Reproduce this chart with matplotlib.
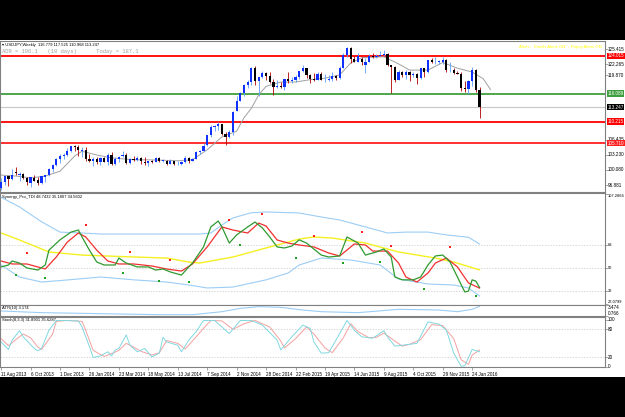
"""USDJPY weekly chart with TDI, ATR and Stochastic sub-windows (MT4 style)."""
import matplotlib
matplotlib.use('Agg')
import matplotlib.pyplot as plt
import matplotlib.patches as mpatches

# ── DATA ──
# weekly bars, bar 0 = week of 11 Aug 2013, bar 130 = week of 7 Feb 2016
opens = [96.25, 97.52, 98.72, 98.10, 99.60, 99.00, 99.30, 98.30, 97.40, 98.40,
         97.90, 97.30, 98.60, 99.10, 100.20, 101.20, 102.40, 103.00, 103.20, 104.00,
         105.00, 104.80, 104.10, 104.30, 102.30, 102.00, 102.30, 101.70, 102.50, 101.80,
         103.30, 101.40, 102.30, 102.90, 103.30, 101.50, 102.40, 102.10, 102.50, 101.80,
         101.50, 102.00, 101.80, 102.50, 102.00, 102.00, 101.40, 102.00, 101.30, 101.30,
         101.80, 102.60, 102.00, 102.40, 103.80, 104.10, 105.20, 107.30, 109.00, 109.30,
         109.60, 107.60, 106.90, 108.10, 112.50, 114.60, 116.20, 117.80, 118.60, 121.40,
         118.80, 119.50, 120.40, 119.70, 118.50, 117.50, 117.70, 117.50, 119.10, 118.80,
         119.00, 119.60, 120.80, 121.40, 120.00, 119.10, 119.00, 120.20, 118.90, 118.90,
         119.20, 119.70, 119.30, 121.50, 124.10, 125.60, 123.40, 122.70, 123.30, 122.00,
         122.80, 124.00, 123.80, 123.90, 124.20, 124.30, 122.00, 121.70, 119.00, 120.60,
         120.00, 120.60, 119.90, 120.20, 119.40, 121.40, 120.60, 123.10, 122.60, 122.80,
         122.80, 123.10, 121.00, 121.10, 120.30, 120.20, 117.20, 117.00, 118.80, 121.10,
         116.779]
highs = [98.37, 98.90, 98.90, 100.20, 100.60, 99.70, 99.50, 98.50, 98.60, 99.00,
         98.50, 98.80, 99.10, 100.40, 101.40, 102.60, 103.40, 103.60, 104.60, 105.00,
         105.40, 105.40, 104.90, 104.80, 103.40, 102.70, 102.80, 102.70, 102.70, 103.60,
         103.80, 102.80, 102.90, 104.10, 103.60, 102.50, 102.90, 103.00, 102.80, 102.70,
         102.00, 102.10, 102.80, 102.80, 102.30, 102.20, 102.30, 102.00, 101.90, 101.90,
         103.10, 102.70, 102.60, 104.00, 104.20, 105.70, 107.40, 109.50, 109.40, 110.10,
         109.70, 108.00, 108.40, 112.50, 115.60, 116.40, 118.00, 118.90, 121.70, 121.90,
         119.50, 120.80, 120.60, 120.50, 119.20, 118.90, 118.60, 119.20, 120.50, 119.60,
         119.90, 120.90, 122.00, 121.50, 120.20, 120.40, 120.60, 120.50, 120.10, 120.00,
         120.50, 120.00, 121.80, 124.50, 125.90, 125.80, 124.00, 124.50, 123.80, 123.50,
         124.30, 124.60, 124.40, 125.10, 125.30, 124.50, 122.10, 121.80, 121.00, 120.80,
         121.00, 120.80, 120.50, 120.40, 121.50, 121.50, 123.20, 123.60, 123.80, 123.10,
         123.70, 123.30, 122.70, 121.40, 120.80, 120.60, 118.80, 118.90, 121.70, 121.30,
         117.525]
lows = [95.80, 97.00, 96.80, 98.00, 99.00, 97.80, 98.10, 96.90, 96.60, 97.80,
        96.90, 97.10, 97.60, 98.80, 99.60, 100.90, 101.60, 102.40, 102.90, 103.90,
        104.00, 103.00, 102.80, 102.00, 101.70, 100.80, 101.40, 101.20, 101.70, 101.20,
        101.20, 101.20, 101.70, 102.80, 101.30, 101.40, 101.90, 101.90, 101.40, 101.10,
        100.80, 101.50, 101.70, 101.70, 101.70, 101.20, 101.30, 101.10, 101.10, 101.10,
        101.60, 101.50, 101.90, 102.30, 103.50, 104.00, 105.10, 107.00, 108.30, 108.50,
        107.50, 105.20, 106.70, 107.40, 112.50, 114.60, 115.50, 117.20, 117.90, 117.90,
        115.60, 119.30, 119.00, 118.40, 115.80, 117.30, 117.20, 116.90, 118.30, 118.20,
        118.60, 119.20, 120.60, 119.30, 118.30, 118.70, 118.90, 118.90, 118.60, 118.80,
        118.80, 118.90, 119.20, 121.50, 123.80, 122.50, 122.70, 122.60, 122.10, 120.40,
        122.60, 123.60, 123.60, 123.90, 123.90, 121.80, 116.20, 118.60, 119.00, 119.60,
        119.20, 118.70, 119.60, 118.10, 119.10, 119.60, 120.30, 122.50, 122.20, 122.20,
        122.30, 120.60, 120.60, 120.20, 120.10, 116.70, 116.50, 115.97, 117.60, 116.50,
        110.968]
closes = [97.52, 98.72, 98.10, 99.10, 99.40, 99.30, 98.30, 97.50, 98.50, 97.80,
          97.40, 98.70, 99.00, 100.20, 101.20, 102.40, 102.90, 103.20, 104.00, 105.00,
          104.80, 104.20, 104.30, 102.30, 102.00, 102.30, 101.80, 102.50, 101.80, 103.30,
          101.40, 102.30, 102.80, 103.30, 101.60, 102.40, 102.20, 102.60, 101.90, 101.50,
          101.90, 101.80, 102.50, 102.00, 102.00, 101.40, 102.00, 101.30, 101.30, 101.80,
          102.60, 102.00, 102.40, 103.80, 104.10, 105.10, 107.40, 109.00, 109.30, 109.70,
          107.60, 106.90, 108.10, 112.30, 114.60, 116.20, 117.80, 118.60, 121.40, 118.80,
          119.50, 120.40, 119.70, 118.50, 117.50, 117.70, 117.50, 119.10, 118.80, 119.00,
          119.60, 120.80, 121.40, 120.00, 119.10, 119.00, 120.20, 118.90, 118.90, 119.20,
          119.70, 119.30, 121.50, 124.10, 125.60, 123.40, 122.70, 123.90, 122.80, 122.80,
          124.00, 123.80, 123.90, 124.20, 124.30, 122.00, 121.70, 119.00, 120.60, 120.00,
          120.60, 119.90, 120.20, 119.40, 121.40, 120.60, 123.10, 122.60, 122.80, 122.80,
          123.10, 121.00, 121.10, 120.30, 120.20, 117.20, 117.00, 118.80, 121.10, 116.80,
          113.247]

# gray moving average on the price window (drawn a few bars past the last candle)
ma_x = [0, 4, 8, 12, 16, 20, 22, 26, 30, 36, 40, 44, 48, 52, 56, 60, 62, 64, 66, 68,
        70, 72, 76, 80, 84, 88, 92, 95, 98, 104, 108, 111, 116, 120, 124, 128, 131, 133]
ma_y = [99.0, 98.8, 98.4, 98.8, 99.8, 103.0, 104.0, 103.2, 102.6, 102.2, 102.2, 102.1, 102.0,
        102.2, 104.3, 107.0, 107.6, 108.2, 111.0, 113.0, 115.8, 117.6, 118.5, 118.5, 119.0,
        119.3, 120.0, 122.5, 123.6, 123.8, 122.3, 121.0, 121.0, 122.6, 121.4, 120.6, 119.2, 116.9]

# horizontal levels and their tag colours
levels = [124.015, 116.089, 110.215, 105.710]
level_colors = ['#ff0000', '#3f9f3f', '#ff0000', '#ff2020']
last_price = 113.247
price_ticks = [125.415, 122.265, 119.870, 106.435, 103.230, 100.080, 96.881]

# Synergy TDI
tdi_green_x = [0, 2, 3, 5, 7, 10, 12, 13, 16, 19, 21, 22, 24, 26, 28, 31, 32, 34, 37, 40,
               42, 44, 46, 49, 51, 52, 55, 57, 59, 60, 62, 64, 67, 69, 71, 73, 75, 77, 79, 81,
               83, 87, 89, 92, 94, 97, 99, 102, 104, 106, 107, 109, 112, 114, 116, 118, 120,
               122, 124, 126, 127, 128, 129, 130]
tdi_green = [51, 52.5, 55.6, 54, 50.2, 48.6, 52.5, 64, 72, 78, 79.6, 74.2, 64, 54.8, 52.5,
             52.5, 57.9, 54, 51, 51, 48.6, 49.4, 47.1, 44.7, 51, 54, 66.5, 82, 86.6, 82,
             69.5, 75.8, 82, 85.8, 81.2, 74.2, 66.5, 65.7, 67.2, 72, 69.5, 60.2, 58.7, 59.5,
             74.2, 69.5, 60.2, 62.6, 64.9, 58.7, 43.2, 41, 41, 43.2, 52.5, 59.5, 60.2, 54.8,
             43.2, 31.6, 32.3, 41, 40, 35.2]
tdi_red_x = [0, 3, 7, 12, 15, 18, 21, 23, 26, 29, 32, 36, 41, 45, 49, 52, 56, 60, 63, 67,
             70, 72, 75, 78, 81, 85, 89, 92, 96, 99, 101, 105, 108, 110, 113, 116, 118, 121,
             124, 127, 130]
tdi_red = [55.6, 53.3, 53.3, 49.4, 58.7, 70.3, 77.3, 74.2, 64, 55.6, 53.3, 53.3, 51.7, 49.4,
           47.8, 53.3, 66.5, 82, 79.6, 77.3, 85, 82.7, 71.9, 69.5, 68, 66.5, 61.8, 59.5, 68.8,
           68, 63.3, 63.3, 54, 43.2, 39.3, 46.3, 54, 57.9, 51, 38.6, 34.6]
tdi_base_x = [0, 5, 13, 22, 36, 45, 51, 54, 63, 72, 81, 85, 90, 99, 108, 118, 123, 130]
tdi_base = [77.3, 71.9, 62.6, 60.2, 58.7, 57.9, 54.8, 54, 58.7, 65.7, 72.6, 74.2, 73.4, 69.5,
            62.6, 57.9, 54.8, 48.7]
tdi_up_x = [0, 5, 11, 16, 22, 27, 54, 57, 60, 63, 68, 72, 81, 87, 92, 99, 105, 110, 116, 121,
            127, 130]
tdi_up = [105, 97.5, 86, 78, 77.3, 76.5, 76.5, 77.3, 83.5, 89, 93, 93.6, 92.8, 89.7, 87.4, 82,
          77.3, 78, 78, 75.8, 74, 68.8]
tdi_dn_x = [0, 5, 11, 18, 27, 36, 45, 51, 56, 63, 72, 78, 81, 87, 95, 103, 108, 116, 123, 127,
            130]
tdi_dn = [52.5, 43.2, 39.3, 40.9, 43.2, 41, 39.3, 37, 34.7, 35.4, 41, 46.3, 52.5, 57.9, 56.4,
          52.5, 41.6, 37.8, 37, 34.7, 28.5]
sell_x = [7, 23, 35, 46, 62, 71, 85, 98, 106, 122]
sell_y = [61.8, 83.5, 62.6, 56.4, 87.4, 92, 75, 78, 67.2, 66.5]
buy_x = [4, 12, 33, 43, 51, 65, 80, 93, 103, 115, 129]
buy_y = [44.7, 42.4, 46.3, 40, 39.3, 68, 58, 54, 54.8, 33.9, 28.5]

# ATR(10)
atr_x = [0, 11, 22, 32, 43, 52, 60, 65, 70, 76, 82, 87, 97, 108, 119, 124, 128, 130]
atr = [2.0, 1.59, 1.42, 1.26, 1.09, 1.09, 1.83, 2.65, 3.06, 2.9, 2.24, 1.83, 1.59, 2.41, 2.24,
       1.83, 2.41, 3.17]

# Stochastic(8,3,3)
st_main_x = [0, 2, 3, 5, 6, 9, 10, 11, 13, 15, 17, 21, 22, 24, 25, 27, 29, 30, 31, 32,
             34, 35, 37, 39, 41, 43, 44, 45, 48, 49, 51, 53, 55, 58, 62, 65, 68, 71, 75, 76,
             79, 82, 84, 85, 87, 89, 91, 94, 96, 98, 101, 104, 105, 107, 109, 113, 116, 119,
             121, 123, 125, 126, 128, 130]
st_main = [53, 37, 57, 77, 64, 39, 34, 39, 78, 99, 99, 98, 85, 43, 20, 23, 32, 23, 36, 39,
           68, 46, 32, 39, 21, 29, 63, 53, 46, 32, 57, 75, 99, 99, 71, 99, 99, 89, 57, 36,
           64, 89, 82, 53, 29, 30, 57, 99, 78, 64, 61, 77, 64, 44, 46, 50, 96, 91, 78, 29,
           1, 2, 37, 31.9]
st_sig_x = [0, 2, 4, 6, 8, 10, 11, 14, 15, 18, 22, 23, 25, 28, 30, 32, 34, 36, 38, 41,
            43, 45, 48, 50, 52, 55, 57, 60, 63, 66, 69, 73, 76, 77, 80, 83, 85, 88, 90, 93,
            95, 97, 100, 102, 104, 107, 109, 111, 114, 117, 120, 123, 125, 127, 128, 130]
st_sig = [60, 45, 58, 70, 62, 42, 37, 70, 97, 99, 97, 78, 35, 22, 28, 35, 50, 42, 33, 25,
          30, 56, 50, 38, 55, 82, 99, 98, 80, 92, 99, 85, 55, 40, 60, 85, 70, 40, 30, 62,
          92, 75, 62, 63, 72, 55, 44, 48, 58, 90, 88, 60, 15, 5, 25, 35.6]

date_idx = [0, 8, 16, 24, 32, 40, 48, 56, 64, 72, 80, 88, 96, 104, 112, 120, 128]
date_labels = ['11 Aug 2013', '6 Oct 2013', '1 Dec 2013', '26 Jan 2014', '23 Mar 2014',
               '18 May 2014', '13 Jul 2014', '7 Sep 2014', '2 Nov 2014', '28 Dec 2014',
               '22 Feb 2015', '19 Apr 2015', '14 Jun 2015', '9 Aug 2015', '4 Oct 2015',
               '29 Nov 2015', '24 Jan 2016']

# ── LAYOUT ──
W, H = 625, 417
FS = 3.3
plt.rcParams['font.family'] = ['Liberation Sans', 'DejaVu Sans']
fig = plt.figure(figsize=(W / 100, H / 100), dpi=100, facecolor='black')
fig.patches.append(mpatches.Rectangle((0, 1 - 377 / H), 1, 337 / H, transform=fig.transFigure,
                                      facecolor='white', edgecolor='none', zorder=-10))


def panel(top, bottom):
    a = fig.add_axes([0.0, 1 - bottom / H, 605 / W, (bottom - top) / H])
    a.set_facecolor('white')
    for s in a.spines.values():
        s.set_color('#808080')
        s.set_linewidth(0.8)
    a.set_xlim(-0.3, 164.1)
    a.yaxis.tick_right()
    a.tick_params(axis='y', length=2, width=0.5, colors='#808080', labelright=False)
    a.tick_params(axis='x', length=0, labelbottom=False)
    return a


def right_labels(a, vals, texts, vas=None, fs=FS):
    a.set_yticks(vals)
    vas = vas or ['center'] * len(vals)
    for v, t, va in zip(vals, texts, vas):
        a.text(1.004, v, t, transform=a.get_yaxis_transform(), fontsize=fs, va=va, ha='left',
               color='black', clip_on=False)


ax = panel(41, 192)
ax_tdi = panel(193, 305)
ax_atr = panel(305, 316)
ax_st = panel(317, 367)

# ── PRICE WINDOW ──
ax.set_ylim(95.45, 127.1)
for lv, c in zip(levels, level_colors):
    ax.axhline(lv, color=c, lw=1.3, zorder=1)
ax.axhline(last_price, color='#c8c8c8', lw=0.8, zorder=1)

x = list(range(len(closes)))
bull = [c >= o for o, c in zip(opens, closes)]
wick_c = ['#5c9cff' if b else '#b00000' for b in bull]
body_c = ['#1030ff' if b else '#000000' for b in bull]
bottoms = [min(o, c) for o, c in zip(opens, closes)]
heights = [max(abs(c - o), 0.12) for o, c in zip(opens, closes)]
ax.vlines(x, lows, highs, colors=wick_c, lw=0.6, zorder=3)
ax.bar(x, heights, bottom=bottoms, width=0.6, color=body_c, lw=0, zorder=4)
ax.plot(ma_x, ma_y, color='#a0a0a0', lw=0.7, zorder=2)

right_labels(ax, price_ticks, [f'{v:.3f}' for v in price_ticks])
for lv, c in zip(levels + [last_price], level_colors + ['#000000']):
    ax.text(1.004, lv, f'{lv:.3f}', transform=ax.get_yaxis_transform(), fontsize=FS,
            color='white', va='center', ha='left', clip_on=False,
            bbox=dict(boxstyle='square,pad=0.15', fc=c, ec='none'))

ax.text(0.004, 0.985, '\u25be USDJPY,Weekly  116.779 117.525 110.968 113.247',
        transform=ax.transAxes, fontsize=3.0, va='top', ha='left')
ax.text(0.004, 0.945, 'ADR = 196.1   (10 days)      Today = 187.1', family='Liberation Mono',
        transform=ax.transAxes, fontsize=4.0, va='top', ha='left', color='#a0a0a0')
ax.text(0.995, 0.975, 'Alerts:   Emails Alerts ON  ;  Popup Alerts ON', transform=ax.transAxes,
        fontsize=3.0, va='top', ha='right', color='#ffff00')

# ── TDI WINDOW ──
ax_tdi.set_ylim(21.5, 108.3)
for lv in [68, 50, 32]:
    ax_tdi.axhline(lv, color='#c8c8c8', lw=0.5, ls=(0, (2, 2)))
ax_tdi.plot(tdi_up_x, tdi_up, color='#9ccdf5', lw=0.8)
ax_tdi.plot(tdi_dn_x, tdi_dn, color='#9ccdf5', lw=0.8)
ax_tdi.plot(tdi_base_x, tdi_base, color='#f5f020', lw=1.0)
ax_tdi.plot(tdi_red_x, tdi_red, color='#f03030', lw=0.9)
ax_tdi.plot(tdi_green_x, tdi_green, color='#2f9a2f', lw=0.9)
ax_tdi.scatter(sell_x, sell_y, s=2.5, color='#ff2020', marker='s', lw=0, zorder=5)
ax_tdi.scatter(buy_x, buy_y, s=2.5, color='#20a020', marker='s', lw=0, zorder=5)
right_labels(ax_tdi, [107.2866, 68, 50, 32, 22.0799], ['107.2866', '68', '50', '32', '22.0799'],
             ['top', 'center', 'center', 'center', 'bottom'], fs=2.9)
ax_tdi.text(0.004, 0.985, 'Synergy_Pro_TDI 48.7432 35.1807 34.5602', transform=ax_tdi.transAxes,
            fontsize=3.0, va='top', ha='left')

# ── ATR WINDOW ──
ax_atr.set_ylim(0.766, 3.474)
ax_atr.plot(atr_x, atr, color='#9ccdf5', lw=0.8)
right_labels(ax_atr, [3.474, 0.766], ['3.474', '0.766'], ['top', 'bottom'])
ax_atr.text(0.004, 0.9, 'ATR(10) 3.174', transform=ax_atr.transAxes, fontsize=3.0,
            va='top', ha='left')

# ── STOCH WINDOW ──
ax_st.set_ylim(-0.6, 106.4)
for lv in [80, 20]:
    ax_st.axhline(lv, color='#c8c8c8', lw=0.5, ls=(0, (2, 2)))
ax_st.plot(st_sig_x, st_sig, color='#f4a0a0', lw=0.7)
ax_st.plot(st_main_x, st_main, color='#80d8e0', lw=0.7)
right_labels(ax_st, [100, 80, 20, 0], ['100', '80', '20', '0'])
ax_st.text(0.004, 0.97, 'Stoch(8,3,3) 31.8901 35.6287', transform=ax_st.transAxes,
           fontsize=3.0, va='top', ha='left')
ax_st.set_xticks(date_idx)
ax_st.set_xticklabels(date_labels, ha='left', fontsize=FS)
ax_st.tick_params(axis='x', length=2, width=0.5, colors='#808080', labelcolor='black',
                  labelbottom=True, pad=1.5)

fig.savefig('out.png', dpi=100, facecolor='black')
